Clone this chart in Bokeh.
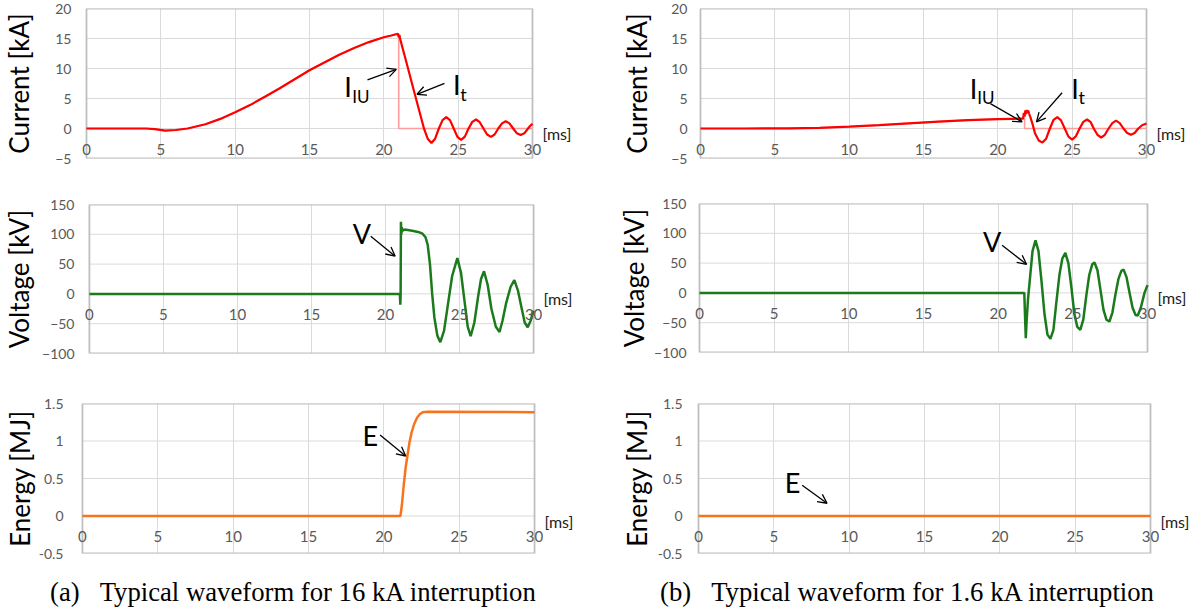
from bokeh.plotting import figure
from bokeh.layouts import row, column
from bokeh.models import Label, Arrow, OpenHead, FixedTicker, Range1d, NumeralTickFormatter, LinearAxis, Div
from bokeh.embed import file_html
from bokeh.resources import INLINE

# ---------------- data ----------------
x_ticks = [0, 5, 10, 15, 20, 25, 30]
cur_ticks = [-5, 0, 5, 10, 15, 20]
volt_ticks = [-100, -50, 0, 50, 100, 150]
en_ticks = [-0.5, 0, 0.5, 1, 1.5]
x_unit = "[ms]"

# (a) 16 kA interruption
a_cur_t = [0, 2, 4, 4.6, 5.3, 6.0, 6.8, 8, 9, 10, 11, 12, 13, 14, 15, 16, 17, 18, 19, 20, 20.5, 20.95,
           21.0, 21.05, 21.1, 21.5, 22.0, 22.4, 22.7, 22.95, 23.2, 23.45, 23.7, 23.95, 24.2, 24.45,
           24.7, 24.95, 25.2, 25.45, 25.7, 25.95, 26.2, 26.45, 26.7, 26.95, 27.2, 27.45, 27.7, 27.95,
           28.2, 28.45, 28.7, 28.95, 29.2, 29.45, 29.7, 29.85, 30.0]
a_cur = [0, 0, 0, -0.1, -0.35, -0.25, 0, 0.7, 1.6, 2.7, 3.9, 5.3, 6.7, 8.2, 9.7, 11.0, 12.3, 13.4, 14.4,
         15.2, 15.5, 15.8, 15.2, 15.6, 14.9, 11.2, 6.5, 2.8, 0.0, -1.7, -2.4, -1.7, 0.0, 1.4, 1.9, 1.4,
         0.0, -1.4, -1.9, -1.35, 0.0, 1.1, 1.5, 1.05, 0.0, -1.0, -1.4, -1.0, 0.0, 0.85, 1.2, 0.85,
         0.0, -0.8, -1.1, -0.8, 0.0, 0.45, 0.8]
a_iu_t = [0, 2, 4, 4.6, 5.3, 6.0, 6.8, 8, 9, 10, 11, 12, 13, 14, 15, 16, 17, 18, 19, 20, 20.5, 20.95,
          21.0, 21.0, 30.0]
a_iu = [0, 0, 0, -0.1, -0.35, -0.25, 0, 0.7, 1.6, 2.7, 3.9, 5.3, 6.7, 8.2, 9.7, 11.0, 12.3, 13.4, 14.4,
        15.2, 15.5, 15.8, 15.8, 0.0, 0.0]
a_volt_t = [0, 20.97, 21.0, 21.02, 21.04, 21.07, 21.1, 21.14, 21.3, 21.8, 22.2, 22.5, 22.7, 22.85,
            23.0, 23.15, 23.3, 23.5, 23.7, 23.95, 24.2, 24.5, 24.85, 25.1, 25.35, 25.55, 25.75,
            26.0, 26.25, 26.45, 26.65, 26.9, 27.15, 27.45, 27.7, 27.9, 28.15, 28.45, 28.7, 28.95,
            29.2, 29.4, 29.6, 29.8, 30.0]
a_volt = [0, 0, -18, 0, 121, 100, 112, 106, 108, 106, 104, 101, 95, 82, 50, 0, -40, -70, -81, -62,
          -20, 30, 60, 35, -15, -55, -71, -48, -5, 25, 38, 15, -25, -55, -64, -45, -15, 12, 23, 5,
          -25, -48, -56, -45, -28]
a_en_t = [0, 21.1, 21.2, 21.33, 21.45, 21.57, 21.7, 21.85, 22.0, 22.2, 22.4, 22.6, 22.9, 30.0]
a_en = [0, 0, 0.15, 0.43, 0.65, 0.81, 0.98, 1.12, 1.22, 1.31, 1.36, 1.385, 1.39, 1.385]

# (b) 1.6 kA interruption
b_cur_t = [0, 3, 6, 8, 10, 12, 14, 16, 18, 20, 21.0, 21.7, 21.75, 21.8, 21.85, 21.9, 21.95, 22.0,
           22.05, 22.1, 22.2, 22.35, 22.5, 22.75, 23.0, 23.25, 23.5, 23.75, 24.0, 24.25, 24.5,
           24.75, 25.0, 25.25, 25.5, 25.75, 26.0, 26.25, 26.45, 26.7, 26.95, 27.2, 27.45, 27.7,
           27.95, 28.2, 28.45, 28.7, 28.95, 29.2, 29.45, 29.7, 30.0]
b_cur = [0, 0, 0.02, 0.12, 0.3, 0.55, 0.85, 1.15, 1.4, 1.57, 1.62, 1.65, 2.6, 2.0, 3.0, 2.4, 3.1,
         2.6, 3.0, 2.5, 1.8, 0.6, -0.8, -2.0, -2.35, -1.7, 0.0, 1.45, 1.9, 1.35, 0.0, -1.35, -1.85,
         -1.3, 0.0, 1.1, 1.5, 1.05, 0.0, -1.05, -1.5, -1.05, 0.0, 0.9, 1.3, 0.9, 0.0, -0.75,
         -1.05, -0.75, 0.0, 0.55, 0.85]
b_iu_t = [0, 3, 6, 8, 10, 12, 14, 16, 18, 20, 21.0, 21.8, 21.8, 30.0]
b_iu = [0, 0, 0.02, 0.12, 0.3, 0.55, 0.85, 1.15, 1.4, 1.57, 1.62, 1.66, 0.0, 0.0]
b_volt_t = [0, 21.75, 21.8, 21.85, 21.9, 22.0, 22.15, 22.3, 22.5, 22.7, 22.9, 23.1, 23.3, 23.5,
            23.7, 23.9, 24.1, 24.3, 24.5, 24.7, 24.9, 25.1, 25.3, 25.5, 25.7, 25.9, 26.1, 26.3,
            26.45, 26.65, 26.85, 27.05, 27.25, 27.45, 27.65, 27.85, 28.05, 28.25, 28.4, 28.6,
            28.8, 29.0, 29.2, 29.35, 29.55, 29.8, 30.0]
b_volt = [0, 0, -40, -76, -50, -10, 30, 70, 88, 70, 20, -35, -70, -77, -62, -15, 30, 58, 67, 50,
          10, -35, -57, -62, -45, -5, 30, 48, 51, 38, 5, -28, -45, -48, -33, -3, 23, 37, 39, 26,
          0, -25, -37, -38, -25, 0, 13]
b_en_t = [0, 10, 20, 30]
b_en = [0, 0, 0, 0]

captions = ["(a)\u00a0\u00a0\u00a0Typical waveform for 16 kA interruption",
            "(b)\u00a0\u00a0\u00a0Typical waveform for 1.6 kA interruption"]

RED = "#FF0000"
PINK = "#FF9C9C"
GREEN = "#1B7A1B"
ORANGE = "#F9731C"
SANS = "Lato"
PAD = 9  # px of frame beyond the 0..30 box so edge tick labels are not clipped


def make_fig(H, L, R, T, B, yr, yticks, ylabel, lab_standoff, tick_standoff, fmt=None):
    frame_w = 600 - L - R
    frame_h = H - T - B
    pad = PAD * (x_ticks[-1] - x_ticks[0]) / frame_w
    p = figure(width=600, height=H, x_range=Range1d(x_ticks[0] - pad, x_ticks[-1] + pad),
               y_range=Range1d(*yr), output_backend="svg", toolbar_location=None,
               min_border_left=L - PAD, min_border_right=R - PAD, min_border_top=T,
               min_border_bottom=B)
    p.background_fill_color = "white"
    p.border_fill_color = "white"
    p.outline_line_color = None
    p.xgrid.ticker = FixedTicker(ticks=x_ticks)
    p.xgrid.grid_line_color = "#DADADA"
    p.ygrid.visible = False
    n = len(yticks)
    p.segment(x0=[x_ticks[0]] * n, x1=[x_ticks[-1]] * n, y0=yticks, y1=yticks,
              line_color="#DADADA", line_width=1)
    p.quad(left=[x_ticks[0]], right=[x_ticks[-1]], bottom=[yr[0]], top=[yr[1]],
           fill_color=None, line_color="#BFBFBF", line_width=1.8)
    # x axis crossing at zero
    xa = p.xaxis[0]
    xa.fixed_location = 0
    xa.ticker = FixedTicker(ticks=x_ticks)
    xa.axis_line_color = None
    xa.major_tick_out = 0
    xa.major_tick_in = 0
    xa.minor_tick_out = 0
    xa.minor_tick_in = 0
    xa.major_label_standoff = 15
    xa.major_label_text_font = SANS
    xa.major_label_text_font_size = "15px"
    xa.major_label_text_color = "#595959"
    ya = p.yaxis[0]
    ya.ticker = FixedTicker(ticks=yticks)
    if fmt is not None:
        ya.formatter = fmt
    ya.axis_line_color = None
    ya.major_tick_out = 0
    ya.major_tick_in = 0
    ya.minor_tick_out = 0
    ya.minor_tick_in = 0
    ya.major_label_standoff = tick_standoff - PAD
    ya.major_label_text_font = SANS
    ya.major_label_text_font_size = "14px"
    ya.major_label_text_color = "#595959"
    ya.axis_label = ylabel
    ya.axis_label_text_font = SANS
    ya.axis_label_text_font_size = "26px"
    ya.axis_label_text_font_style = "normal"
    ya.axis_label_text_color = "black"
    ya.axis_label_standoff = lab_standoff
    # unit label "[ms]" just right of the box, slightly below the zero line
    d = 5 * (yr[1] - yr[0]) / frame_h
    p.extra_y_ranges = {"ms": Range1d(yr[0] + d, yr[1] + d)}
    ms = LinearAxis(y_range_name="ms", ticker=FixedTicker(ticks=[0]),
                    major_label_overrides={0: x_unit}, axis_line_color=None,
                    major_tick_out=0, major_tick_in=0, minor_tick_out=0, minor_tick_in=0,
                    major_label_standoff=1, major_label_text_font=SANS,
                    major_label_text_font_size="16px", major_label_text_color="#222222")
    p.add_layout(ms, "right")
    return p


def caption_div(text, left):
    html = ('<div style="position:relative; left:%dpx; top:17px; font-family:\'Liberation Serif\', serif; '
            'font-size:26.7px; line-height:27px; white-space:nowrap; color:black;">%s</div>' % (left, text))
    return Div(text=html, width=600, height=52, margin=(0, 0, 0, 0))


def lab(p, x, y, text, size="27px"):
    p.add_layout(Label(x=x, y=y, text=text, text_font=SANS, text_font_size=size, text_color="black",
                       text_align="center", text_baseline="middle"))


def arr(p, x0, y0, x1, y1):
    p.add_layout(Arrow(end=OpenHead(size=9, line_width=1.3, line_color="black"),
                       x_start=x0, y_start=y0, x_end=x1, y_end=y1, line_width=1.3, line_color="black"))


# ---------------- (a) ----------------
pa1 = make_fig(180, 86, 68, 8, 22, (-5, 20), cur_ticks, "Current [kA]", 17, 15)
pa1.line(a_iu_t, a_iu, color=PINK, line_width=1.6)
pa1.line(a_cur_t, a_cur, color=RED, line_width=2.2)
lab(pa1, 17.6, 7.0, "I")
lab(pa1, 18.45, 5.4, "IU", "17px")
arr(pa1, 18.9, 8.1, 20.84, 9.86)
lab(pa1, 24.9, 7.3, "I")
lab(pa1, 25.35, 5.8, "t", "18px")
arr(pa1, 24.08, 7.53, 22.23, 5.7)

pa2 = make_fig(190, 84, 67, 24, 17, (-100, 150), volt_ticks, "Voltage [kV]", 4, 15)
pa2.line(a_volt_t, a_volt, color=GREEN, line_width=2.5)
lab(pa2, 18.4, 102, "V")
arr(pa2, 19.0, 96.8, 20.65, 63.2)

pa3 = make_fig(192, 80, 66, 33, 9, (-0.5, 1.5), en_ticks, "Energy [MJ]", 0, 19,
               fmt=NumeralTickFormatter(format="0.[0]"))
pa3.line(a_en_t, a_en, color=ORANGE, line_width=2.5)
lab(pa3, 19.1, 1.08, "E")
arr(pa3, 19.75, 1.08, 21.45, 0.80)

ca = caption_div(captions[0], 50)

# ---------------- (b) ----------------
pb1 = make_fig(180, 100, 54, 8, 22, (-5, 20), cur_ticks, "Current [kA]", 15, 13)
pb1.line(b_iu_t, b_iu, color=PINK, line_width=1.6)
pb1.line(b_cur_t, b_cur, color=RED, line_width=2.2)
lab(pb1, 18.36, 6.65, "I")
lab(pb1, 19.2, 5.1, "IU", "17px")
arr(pb1, 19.5, 4.15, 21.63, 1.1)
lab(pb1, 25.2, 6.65, "I")
lab(pb1, 25.65, 5.2, "t", "18px")
arr(pb1, 24.32, 5.96, 22.6, 1.1)

pb2 = make_fig(190, 99, 53, 23, 18, (-100, 150), volt_ticks, "Voltage [kV]", 1, 13)
pb2.line(b_volt_t, b_volt, color=GREEN, line_width=2.5)
lab(pb2, 19.6, 86, "V")
arr(pb2, 20.26, 80, 21.9, 48)

pb3 = make_fig(192, 98, 50, 33, 9, (-0.5, 1.5), en_ticks, "Energy [MJ]", 2, 16,
               fmt=NumeralTickFormatter(format="0.[0]"))
pb3.line(b_en_t, b_en, color=ORANGE, line_width=2.5)
lab(pb3, 6.24, 0.45, "E")
arr(pb3, 6.88, 0.41, 8.53, 0.17)

cb = caption_div(captions[1], 60)

layout = row(column(row(pa1), row(pa2), row(pa3), ca),
             column(row(pb1), row(pb2), row(pb3), cb))

open("out.html", "w").write(file_html(layout, INLINE))
